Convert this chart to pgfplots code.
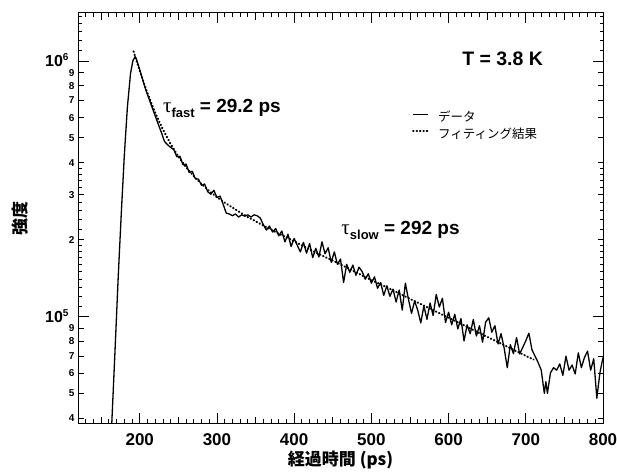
\documentclass[border=0pt]{standalone}
\usepackage{fontspec}
\setmainfont{Liberation Sans}
\newfontfamily\jp{Noto Sans CJK JP}
\newfontfamily\symf{Liberation Serif}
\usepackage{pgfplots}
\pgfplotsset{compat=1.18}
\begin{document}
\begin{tikzpicture}
\useasboundingbox (-78pt,-51pt) rectangle (539pt,424pt);
\begin{axis}[
  at={(0pt,0pt)}, anchor=south west,
  scale only axis, width=525pt, height=411pt,
  xmin=120, xmax=800, ymode=log, ymin=3.8e4, ymax=1.54e6,
  axis line style={line width=1pt, black},
  tick style={black, line width=0.8pt},
  tick align=inside,
  major tick length=10.5pt, minor tick length=4.5pt,
  xtick={200,300,400,500,600,700,800},
  xticklabels={200,300,400,500,600,700,800},
  minor xtick={130,140,...,790},
  extra x ticks={150,250,350,450,550,650,750},
  extra x tick labels={},
  extra x tick style={major tick length=7pt},
  xticklabel style={font=\bfseries\fontsize{17}{17}\selectfont, yshift=-6pt},
  ytick={1e5,1e6},
  yticklabels={10\smash{\raisebox{6pt}{\fontsize{10}{10}\selectfont 5}},10\smash{\raisebox{6pt}{\fontsize{10}{10}\selectfont 6}}},
  yticklabel style={font=\bfseries\fontsize{16}{16}\selectfont, xshift=-6pt},
  extra y ticks={4e4,5e4,6e4,7e4,8e4,9e4,2e5,3e5,4e5,5e5,6e5,7e5,8e5,9e5},
  extra y tick labels={4,5,6,7,8,9,2,3,4,5,6,7,8,9},
  extra y tick style={major tick length=5.5pt, yticklabel style={font=\bfseries\fontsize{10}{10}\selectfont, xshift=6pt}},
  minor ytick={1.1e5,1.2e5,1.3e5,1.4e5,1.5e5,1.6e5,1.7e5,1.8e5,1.9e5,2.2e5,2.4e5,2.6e5,2.8e5,3.2e5,3.4e5,3.6e5,3.8e5,1.1e6,1.2e6,1.3e6,1.4e6,1.5e6},
  minor y tick style={/pgfplots/minor tick length=3.5pt},
  xlabel={\jp\bfseries 経過時間 (ps)},
  xlabel style={font=\fontsize{17}{17}\selectfont, at={(axis description cs:0.5,0)}, anchor=center, yshift=-36pt},
  ylabel={\jp\bfseries 強度},
  ylabel style={font=\fontsize{17}{17}\selectfont, at={(axis description cs:-0.110,0.5)}, anchor=center},
  legend style={at={(rel axis cs:0.636,0.762)}, anchor=north west, draw=none, fill=none,
    font=\jp\fontsize{12.5}{13}\selectfont, inner sep=0pt, row sep=2.5pt,
    nodes={inner sep=1pt, text height=9.5pt, text depth=3pt},
    /tikz/every odd column/.append style={column sep=8pt}},
  legend cell align=left,
  legend image code/.code={\draw[#1] (0pt,4pt) -- (15pt,4pt);},
]
\addplot[black, line width=1.3pt, line join=round] coordinates {
(160,2.00e4)(164,3.98e4)(168,7.41e4)(172,1.41e5)(176,2.51e5)(180,4.27e5)(184,6.61e5)(188,8.91e5)(191,1.00e6)(194,1.04e6)
(196,1.01e6)(200,9.23e5)(204,8.41e5)(208,7.67e5)(212,7.11e5)(216,6.58e5)(220,6.10e5)(224,5.65e5)(228,5.25e5)(232,4.84e5)
(236,4.70e5)(240,4.59e5)(244,4.50e5)(248,4.22e5)(252,4.24e5)(256,3.92e5)(260,3.95e5)(264,3.66e5)(268,3.70e5)(272,3.46e5)
(276,3.45e5)(280,3.26e5)(284,3.30e5)(288,3.08e5)(292,3.01e5)(296,3.12e5)(300,2.92e5)(304,2.96e5)(308,2.75e5)(312,2.54e5)
(316,2.52e5)(320,2.48e5)(324,2.52e5)(328,2.45e5)(332,2.50e5)(336,2.47e5)(340,2.50e5)(344,2.45e5)(348,2.50e5)(352,2.48e5)
(356,2.43e5)(360,2.29e5)(364,2.18e5)(368,2.26e5)(372,2.14e5)(376,2.21e5)(380,2.07e5)(384,2.16e5)(388,1.96e5)(392,2.10e5)
(396,1.88e5)(400,2.02e5)(404,1.90e5)(408,1.79e5)(412,1.95e5)(416,1.77e5)(420,1.93e5)(424,1.70e5)(428,1.85e5)(432,1.71e5)
(436,1.96e5)(440,1.76e5)(444,1.86e5)(448,1.63e5)(452,1.79e5)(456,1.60e5)(460,1.68e5)(464,1.36e5)(468,1.60e5)(472,1.49e5)
(476,1.59e5)(480,1.45e5)(484,1.56e5)(488,1.50e5)(492,1.40e5)(496,1.47e5)(500,1.35e5)(504,1.43e5)(508,1.29e5)(512,1.36e5)
(516,1.21e5)(520,1.32e5)(524,1.20e5)(528,1.28e5)(532,1.14e5)(536,1.27e5)(540,1.06e5)(544,1.35e5)(548,1.17e5)(552,1.03e5)
(556,1.15e5)(560,1.06e5)(564,9.44e4)(568,1.10e5)(572,9.75e4)(576,1.13e5)(580,1.01e5)(584,1.22e5)(588,1.09e5)(592,1.18e5)
(596,9.48e4)(600,1.04e5)(604,9.29e4)(608,1.02e5)(612,8.95e4)(616,9.82e4)(620,8.03e4)(624,9.28e4)(628,8.57e4)(632,9.74e4)
(636,8.39e4)(640,9.21e4)(644,7.94e4)(648,9.51e4)(652,9.89e4)(656,8.69e4)(660,9.21e4)(664,7.81e4)(668,8.57e4)(672,7.52e4)
(676,6.31e4)(680,7.76e4)(684,7.16e4)(688,8.28e4)(692,7.14e4)(696,7.57e4)(700,8.04e4)(704,8.61e4)(708,7.41e4)(712,7.00e4)
(716,6.61e4)(720,6.17e4)(724,5.01e4)(726,5.56e4)(728,5.01e4)(732,6.03e4)(736,6.31e4)(740,6.17e4)(744,6.53e4)(748,5.89e4)
(752,7.00e4)(756,6.17e4)(760,6.46e4)(764,5.96e4)(768,7.21e4)(772,6.31e4)(776,6.92e4)(780,7.33e4)(784,6.17e4)(788,6.84e4)
(792,4.79e4)(796,6.03e4)(800,6.92e4)
};
\addlegendentry{データ}
\addplot[black, line width=2pt, line cap=round, dash pattern=on 0.6pt off 2.8pt] coordinates {
(192,1.09e6)(195,1.019e6)(200,9.14e5)(205,8.25e5)(210,7.49e5)(215,6.84e5)(220,6.28e5)(225,5.80e5)(230,5.39e5)
(240,4.73e5)(250,4.23e5)(260,3.84e5)(270,3.54e5)(280,3.30e5)(290,3.10e5)(300,2.93e5)(310,2.79e5)(320,2.67e5)
(330,2.555e5)(340,2.45e5)(350,2.36e5)(360,2.27e5)(370,2.19e5)(380,2.11e5)(390,2.04e5)(400,1.97e5)(420,1.83e5)
(440,1.71e5)(460,1.60e5)(480,1.49e5)(500,1.39e5)(520,1.30e5)(540,1.215e5)(560,1.134e5)(580,1.059e5)(600,9.89e4)
(620,9.24e4)(640,8.62e4)(660,8.05e4)(680,7.52e4)(700,7.02e4)(710,6.79e4)
};
\addlegendentry{フィティング結果}
\node[anchor=center, font=\bfseries\fontsize{19.5}{19.5}\selectfont] at (axis cs:670,1.02e6) {T = 3.8 K};
\node[anchor=base west, inner sep=0pt, font=\bfseries\fontsize{19}{19}\selectfont] at (axis cs:230,6.31e5)
  {{\symf\mdseries\fontsize{21}{21}\selectfont τ}\raisebox{-5pt}{\fontsize{13}{13}\selectfont fast} = 29.2 ps};
\node[anchor=base west, inner sep=0pt, font=\bfseries\fontsize{19}{19}\selectfont] at (axis cs:461,2.09e5)
  {{\symf\mdseries\fontsize{21}{21}\selectfont τ}\raisebox{-5pt}{\fontsize{13}{13}\selectfont slow} = 292 ps};
\end{axis}
\end{tikzpicture}
\end{document}
